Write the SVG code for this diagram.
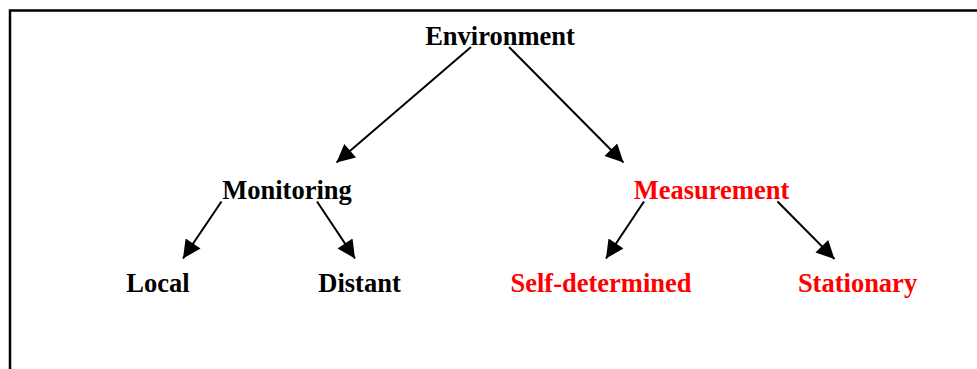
<svg xmlns="http://www.w3.org/2000/svg" width="977" height="369" viewBox="0 0 977 369">
<defs>
<style>
.t{font-family:"Liberation Serif","Times New Roman",serif;font-weight:bold;font-size:26.5px;text-anchor:middle;fill:#000}
.r{fill:#ff0000}
.c line{stroke:#000;stroke-width:2;fill:none}
</style>
<marker id="ah" viewBox="0 0 10 10" refX="10" refY="5" markerWidth="10.5" markerHeight="9" markerUnits="strokeWidth" orient="auto">
<path d="M0,0 L10,5 L0,10 Z" fill="#000"/>
</marker>
</defs>
<rect width="977" height="369" fill="#fff"/>
<path d="M10,369 V10.5 H977" fill="none" stroke="#000" stroke-width="2.5"/>
<g id="n-environment"><text class="t" x="500" y="45">Environment</text></g>
<g id="n-monitoring"><text class="t" x="287" y="199">Monitoring</text></g>
<g id="n-measurement"><text class="t r" x="711.5" y="199">Measurement</text></g>
<g id="n-local"><text class="t" x="158" y="292">Local</text></g>
<g id="n-distant"><text class="t" x="359.5" y="292">Distant</text></g>
<g id="n-self"><text class="t r" x="601" y="292">Self-determined</text></g>
<g id="n-stationary"><text class="t r" x="857.5" y="292">Stationary</text></g>
<g class="c" id="connectors">
<line x1="471" y1="47" x2="336.5" y2="162.5" marker-end="url(#ah)"/>
<line x1="509" y1="47" x2="623.5" y2="162.5" marker-end="url(#ah)"/>
<line x1="221.5" y1="201.5" x2="183" y2="258.5" marker-end="url(#ah)"/>
<line x1="317" y1="201.5" x2="355" y2="258.5" marker-end="url(#ah)"/>
<line x1="644" y1="201.5" x2="606" y2="258.5" marker-end="url(#ah)"/>
<line x1="777.5" y1="201.5" x2="834.5" y2="259" marker-end="url(#ah)"/>
</g>
</svg>
